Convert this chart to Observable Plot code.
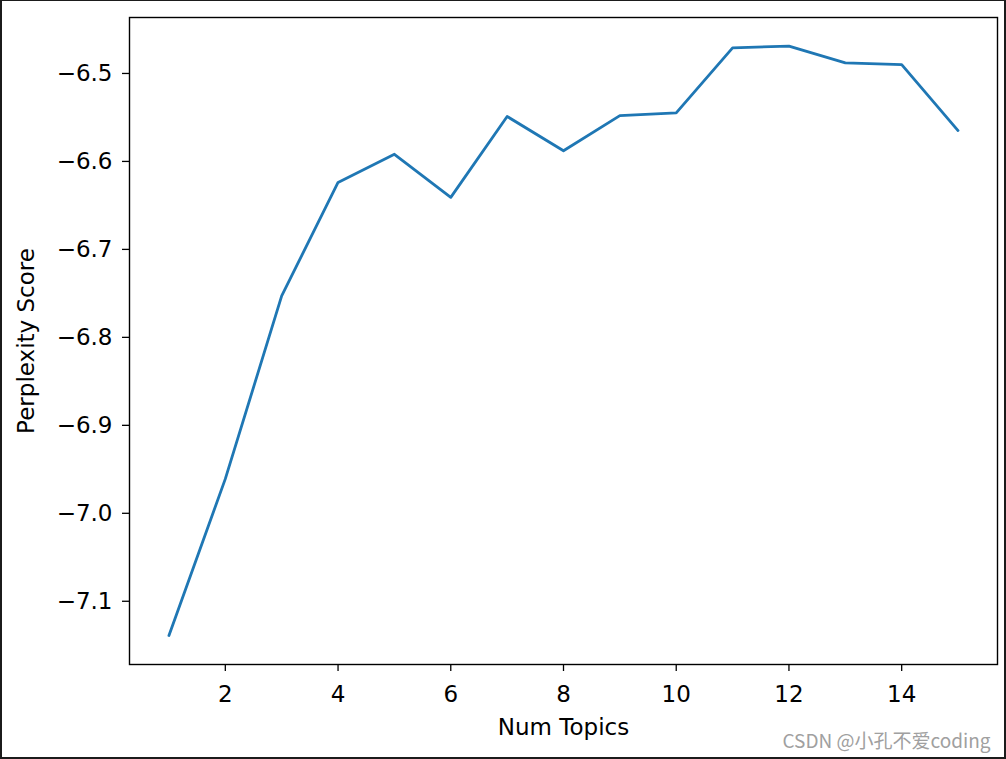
<!DOCTYPE html>
<html>
<head>
<meta charset="utf-8">
<script src="https://cdn.jsdelivr.net/npm/d3@7"></script>
<script src="https://cdn.jsdelivr.net/npm/@observablehq/plot@0.6"></script>
<style>
  html, body { margin: 0; padding: 0; background: #fff; }
  #wrap { position: relative; width: 1006px; height: 759px; overflow: hidden; }
  #border { position: absolute; left: 0; top: 0; width: 1006px; height: 759px; box-sizing: border-box;
            border: 2px solid #1b1b1b; border-top-width: 1px; pointer-events: none; }
</style>
</head>
<body>
<div id="wrap"><div id="border"></div></div>
<script>
const numTopics = [1, 2, 3, 4, 5, 6, 7, 8, 9, 10, 11, 12, 13, 14, 15];
const perplexity = [-7.144, -6.966, -6.758, -6.629, -6.597, -6.646, -6.554, -6.593, -6.553, -6.550, -6.476, -6.474, -6.493, -6.495, -6.570];
const xTicks = [2, 4, 6, 8, 10, 12, 14];
const yTicks = [-7.1, -7.0, -6.9, -6.8, -6.7, -6.6, -6.5];
const xLabel = "Num Topics";
const yLabel = "Perplexity Score";
const watermark = "CSDN @小孔不爱coding";

const data = numTopics.map((t, i) => ({t, p: perplexity[i]}));
const fmt = d3.format(".1f");

const chart = Plot.plot({
  width: 1006,
  height: 759,
  marginLeft: 129,
  marginRight: 9,
  marginTop: 17,
  marginBottom: 95,
  style: {background: "#fff", fontFamily: "DejaVu Sans", fontSize: "23px", color: "#000"},
  x: {domain: [0.3, 15.7]},
  y: {domain: [-7.177, -6.4415]},
  marks: [
    Plot.line(data, {x: "t", y: "p", stroke: "#1f77b4", strokeWidth: 2.8}),
    Plot.frame({stroke: "#000", strokeWidth: 1.4}),
    Plot.axisX({ticks: xTicks, tickSize: 7, tickPadding: 14, label: null, stroke: "#000", fill: "#000", strokeWidth: 1.3}),
    Plot.axisY({ticks: yTicks, tickSize: 7, tickPadding: 10, tickFormat: fmt, dy: 4.5, label: null, stroke: "#000", fill: "#000", strokeWidth: 1.3}),
    Plot.text([xLabel], {frameAnchor: "bottom", text: d => d, textAnchor: "middle", lineAnchor: "middle", dy: 63.6, fontSize: 23, fill: "#000"}),
    Plot.text([yLabel], {frameAnchor: "left", text: d => d, rotate: -90, textAnchor: "middle", lineAnchor: "middle", dx: -103, fontSize: 23, fill: "#000"}),
    Plot.text([watermark], {frameAnchor: "bottom-right", text: d => d, textAnchor: "end", lineAnchor: "middle", dx: -7, dy: 77, fontSize: 19, fill: "#a0a0a0", fontFamily: "Noto Sans CJK SC"})
  ]
});
document.getElementById("wrap").insertBefore(chart, document.getElementById("border"));
</script>
</body>
</html>
